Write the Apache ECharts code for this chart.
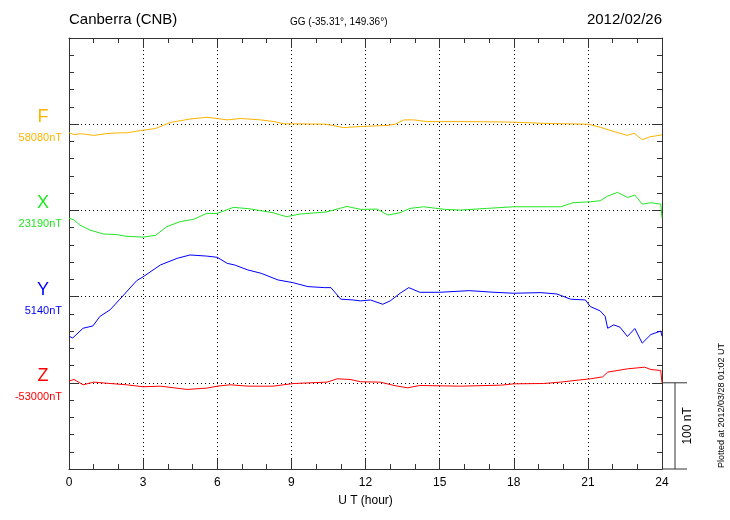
<!DOCTYPE html>
<html><head><meta charset="utf-8">
<script src="https://cdn.jsdelivr.net/npm/echarts@6/dist/echarts.min.js"></script>
<style>html,body{margin:0;padding:0;background:#fff}#c{width:730px;height:520px}</style>
</head><body><div id="c"></div>
<script>
// Components and their baseline values (nT)
const components = ['F', 'X', 'Y', 'Z'];
const baselines = ['58080nT', '23190nT', '5140nT', '-53000nT'];
const slotOffsets = [300, 200, 100, 0];
const colors = ['#FFB300', '#22E622', '#0000FF', '#FF0000'];
const xTicks = [0, 3, 6, 9, 12, 15, 18, 21, 24];

// Deviations from baseline (nT)
const fHours = [0,0.2,0.5,1,1.5,2,2.33,3,3.5,4.1,4.5,4.9,5.57,6,6.4,6.95,7.76,8.3,8.7,9.1,10.4,11.1,11.8,12.87,13.2,13.55,13.96,14.5,15.85,17.2,18,19.4,21,21.5,22.05,22.6,22.87,23.2,23.5,24];
const fValues = [-10,-12,-11,-13,-11,-10,-10,-7,-5,2,4,6,8,6.6,5,6.6,5,3,0.4,0.4,0,-3.9,-2.7,-1.5,0,5,5,3,3,2.7,2.3,0.8,0,-3.5,-8.5,-13,-10.4,-18,-14.7,-12.4];

const xHours = [0,0.2,0.44,0.85,1.4,1.93,2.3,3,3.5,3.95,4.5,5.04,5.57,6,6.65,7.3,8.26,8.8,9.35,10.4,11.25,11.8,12.47,12.9,13.4,13.8,14.35,15.2,15.85,16.9,18,19.4,19.9,20.4,21.1,21.5,21.8,22.2,22.6,22.9,23.2,23.55,23.95,24];
const xValues = [-9,-11,-17,-22.8,-27.4,-28,-30,-31,-29,-19,-13,-10.4,-3.5,-3.5,3.5,1.9,-2.7,-7.3,-4.2,-1.9,4.6,1.2,1.5,-5.4,-2.7,2.3,4.2,1.2,0.4,2.3,4.2,4.2,4.2,8.9,10,11.2,16.6,20.9,15,17.8,7.3,8.9,7.3,-9];

const yHours = [0,0.15,0.57,0.97,1.25,1.66,2.06,2.74,3,3.7,4.38,4.9,5.57,6,6.4,6.7,7.24,7.78,8.46,9.06,9.67,10.35,10.6,11,11.5,11.8,12.2,12.7,13,13.4,13.75,14.2,15,16.2,17.2,18,19.1,19.75,20.3,20.9,21.1,21.5,21.7,21.8,22.05,22.3,22.6,22.9,23.2,23.55,23.95,24];
const yValues = [-46,-48,-36.7,-34,-23,-15.4,-3,18.5,23,36.7,44.4,48.3,47,45.6,38.6,36.7,30.9,27,19.3,16.2,11.6,10.4,10.4,-3,-3.9,-5,-3.9,-8.9,-5,3.9,10.4,5,5,6.9,5,3.9,4.6,3,-3,-3.9,-11.6,-16.6,-23,-36.7,-32.8,-35.5,-46.3,-37,-54,-44,-40,-46];

const zHours = [0,0.2,0.57,1,1.66,2.33,3,3.7,4.77,5.57,6,6.52,7.24,8.26,9.1,10.45,10.85,11.38,11.8,12.6,13.15,13.7,14.2,15.85,17.5,18,19.2,19.9,20.6,21.1,21.6,21.8,22.6,23.3,23.55,23.95,24];
const zValues = [1.9,3.9,-2.3,0.8,-0.8,-2.3,-4.6,-3.9,-7.7,-6.2,-3.9,-2.3,-3.9,-3.9,-0.8,0.8,4.6,3.9,1.2,0.8,-3.1,-5.8,-3.1,-3.9,-2.7,-1.2,-0.8,0.8,3.1,4.6,6.9,12.4,16.2,18.1,15.4,14.3,0];

const hoursList = [fHours, xHours, yHours, zHours];
const valuesList = [fValues, xValues, yValues, zValues];

const FONT = 'Liberation Sans, Arial, sans-serif';
const chart = echarts.init(document.getElementById('c'));

const axisLineStyle = {color: '#333', width: 1};
const xAxisBase = {
  type: 'value', min: 0, max: 24, interval: 3,
  axisLine: {show: true, onZero: false, lineStyle: axisLineStyle},
  axisTick: {show: true, inside: true, length: 10, lineStyle: axisLineStyle},
  minorTick: {show: true, splitNumber: 3, length: 5, lineStyle: axisLineStyle},
  minorSplitLine: {show: false}
};
const yAxisBase = {
  type: 'value', min: -100, max: 400, interval: 100,
  axisLine: {show: true, onZero: false, lineStyle: axisLineStyle},
  axisTick: {show: true, inside: true, length: 10, lineStyle: axisLineStyle},
  minorTick: {show: true, splitNumber: 5, length: 5, lineStyle: axisLineStyle},
  axisLabel: {show: false}
};

chart.setOption({
  animation: false,
  backgroundColor: '#fff',
  grid: {left: 69, right: 68, top: 38, bottom: 51},
  xAxis: [
    Object.assign({}, xAxisBase, {
      position: 'bottom',
      axisLabel: {show: true, fontSize: 12, color: '#000', fontFamily: FONT, margin: 8},
      splitLine: {show: true, lineStyle: {color: '#000', type: [1, 3], width: 1}},
      name: 'U T (hour)', nameLocation: 'middle', nameGap: 26,
      nameTextStyle: {fontSize: 12, color: '#000', fontFamily: FONT}
    }),
    Object.assign({}, xAxisBase, {position: 'top', axisLabel: {show: false}, splitLine: {show: false}})
  ],
  yAxis: [
    Object.assign({}, yAxisBase, {position: 'left',
      splitLine: {show: true, lineStyle: {color: '#000', type: [1, 3], width: 1}}}),
    Object.assign({}, yAxisBase, {position: 'right', splitLine: {show: false}})
  ],
  series: components.map((c, i) => ({
    type: 'line', name: c, showSymbol: false, symbol: 'none',
    lineStyle: {color: colors[i], width: 1},
    data: hoursList[i].map((h, j) => [h, valuesList[i][j] + slotOffsets[i]])
  }))
});

const graphics = [
  {type: 'text', left: 69, top: 12, style: {text: 'Canberra (CNB)', fontSize: 15, fill: '#000', fontFamily: FONT}},
  {type: 'text', left: 290, top: 17, style: {text: 'GG (-35.31°, 149.36°)', fontSize: 10, fill: '#000', fontFamily: FONT}},
  {type: 'text', right: 68, top: 12, style: {text: '2012/02/26', fontSize: 15, fill: '#000', fontFamily: FONT}}
];
components.forEach((c, i) => {
  const p = chart.convertToPixel({gridIndex: 0}, [0, slotOffsets[i]]);
  graphics.push({type: 'text', x: 43, y: p[1] - 7, style: {text: c, fontSize: 18, fill: colors[i], fontFamily: FONT, textAlign: 'center', textVerticalAlign: 'middle'}});
  graphics.push({type: 'text', x: 62, y: p[1] + 14, style: {text: baselines[i], fontSize: 11, fill: colors[i], fontFamily: FONT, textAlign: 'right', textVerticalAlign: 'middle'}});
});
// 100 nT scale bar from Z baseline down 100 nT
const s0 = chart.convertToPixel({gridIndex: 0}, [24, 0]);
const s1 = chart.convertToPixel({gridIndex: 0}, [24, -100]);
graphics.push({type: 'line', shape: {x1: s0[0], y1: s0[1], x2: s0[0] + 25, y2: s0[1]}, style: {stroke: '#333', lineWidth: 1}});
graphics.push({type: 'line', shape: {x1: s1[0], y1: s1[1], x2: s1[0] + 25, y2: s1[1]}, style: {stroke: '#333', lineWidth: 1}});
graphics.push({type: 'line', shape: {x1: s0[0] + 13, y1: s0[1], x2: s0[0] + 13, y2: s1[1]}, style: {stroke: '#333', lineWidth: 1}});
graphics.push({type: 'text', x: s0[0] + 26, y: (s0[1] + s1[1]) / 2, rotation: Math.PI / 2,
  style: {text: '100 nT', fontSize: 12, fill: '#000', fontFamily: FONT, textAlign: 'center', textVerticalAlign: 'middle'}});
graphics.push({type: 'text', x: 722, y: 468, rotation: Math.PI / 2,
  style: {text: 'Plotted at 2012/03/28 01:02 UT', fontSize: 9, fill: '#000', fontFamily: FONT, textAlign: 'left', textVerticalAlign: 'middle'}});
chart.setOption({graphic: graphics});
</script></body></html>
